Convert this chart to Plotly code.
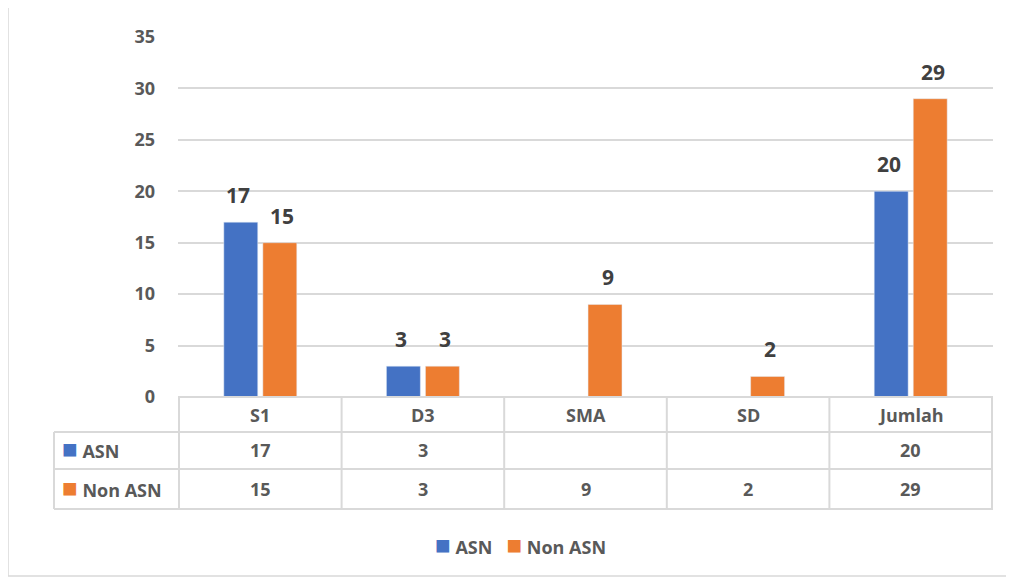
import plotly.graph_objects as go

categories = ["S1", "D3", "SMA", "SD", "Jumlah"]
asn = [17, 3, None, None, 20]
non_asn = [15, 3, 9, 2, 29]
series_names = ["ASN", "Non ASN"]
colors = ["#4472C4", "#ED7D31"]
y_ticks = [0, 5, 10, 15, 20, 25, 30, 35]

# page body adds an 8px margin, so target pixels are shifted by OFF
OFF = 8
W, H = 1000, 570
L, R, T, B = 178, 993, 37, 397   # plot area in reference pixels


def px(x):
    return (x - L) / (R - L)


def py(y):
    return (B - y) / (B - T)


FONT = "'Open Sans', Lato, sans-serif"
GRAY = "#595959"
LINE = "#D9D9D9"

fig = go.Figure()
for name, vals, col in zip(series_names, [asn, non_asn], colors):
    fig.add_trace(go.Bar(x=categories, y=vals, name=name, marker_color=col, showlegend=False))

shapes = []
# outer chart border
shapes.append(dict(type="rect", xref="paper", yref="paper",
                   x0=px(8), x1=px(1008), y0=py(576), y1=py(7),
                   line=dict(color=LINE, width=1.5), layer="below"))

# data table grid
row_y = [397, 432, 469, 509]
for i, yy in enumerate(row_y):
    shapes.append(dict(type="line", xref="paper", yref="paper",
                       x0=px(178 if i == 0 else 54), x1=px(993), y0=py(yy), y1=py(yy),
                       line=dict(color=LINE, width=2)))
for k in range(len(categories) + 1):
    shapes.append(dict(type="line", xref="x", yref="paper",
                       x0=k - 0.5, x1=k - 0.5, y0=py(397), y1=py(509),
                       line=dict(color=LINE, width=2)))
shapes.append(dict(type="line", xref="paper", yref="paper",
                   x0=px(54), x1=px(54), y0=py(432), y1=py(509),
                   line=dict(color=LINE, width=2)))

annotations = []
# bar value labels
for vals, dx in zip([asn, non_asn], [-22, 22]):
    for c, v in zip(categories, vals):
        if v is None:
            continue
        annotations.append(dict(x=c, y=v, xref="x", yref="y", text=f"<b>{v}</b>",
                                showarrow=False, xshift=dx, yshift=27, yanchor="middle",
                                font=dict(family=FONT, size=21, color="#404040")))

tfont = dict(family=FONT, size=18, color=GRAY)


def key(name, col):
    return f"<span style='color:{col};font-size:26px'>■</span> <b>{name}</b>"


for c in categories:
    annotations.append(dict(x=c, y=py(414.5), xref="x", yref="paper", text=f"<b>{c}</b>",
                            showarrow=False, yanchor="middle", font=tfont))
row_centers = [450.5, 489]
for name, vals, col, yc in zip(series_names, [asn, non_asn], colors, row_centers):
    annotations.append(dict(x=px(60), y=py(yc - 2.5), xref="paper", yref="paper",
                            xanchor="left", yanchor="middle",
                            text=key(name, col), showarrow=False, font=tfont))
    for c, v in zip(categories, vals):
        if v is None:
            continue
        annotations.append(dict(x=c, y=py(yc), xref="x", yref="paper", text=f"<b>{v}</b>",
                                showarrow=False, yanchor="middle", font=tfont))

# legend drawn as text to match the square markers
leg = "   ".join(key(name, col) for name, col in zip(series_names, colors))
annotations.append(dict(x=px(520), y=py(544), xref="paper", yref="paper", text=leg,
                        showarrow=False, xanchor="center", yanchor="middle", font=tfont))

fig.update_layout(
    width=W, height=H,
    margin=dict(l=L - OFF, r=W - (R - OFF), t=T - OFF, b=H - (B - OFF)),
    paper_bgcolor="white", plot_bgcolor="white",
    barmode="group", bargap=0.52, bargroupgap=0.13,
    font=dict(family=FONT, color=GRAY),
    xaxis=dict(showticklabels=False, ticks="", showgrid=False, zeroline=False, showline=False),
    yaxis=dict(range=[0, 35], tickvals=y_ticks, ticktext=[f"<b>{t}</b>" for t in y_ticks],
               showgrid=True, gridcolor=LINE, gridwidth=1.5,
               zeroline=False, ticks="", ticklabelstandoff=22,
               tickfont=dict(family=FONT, size=18, color=GRAY)),
    shapes=shapes, annotations=annotations,
)

fig.write_html("out.html")
